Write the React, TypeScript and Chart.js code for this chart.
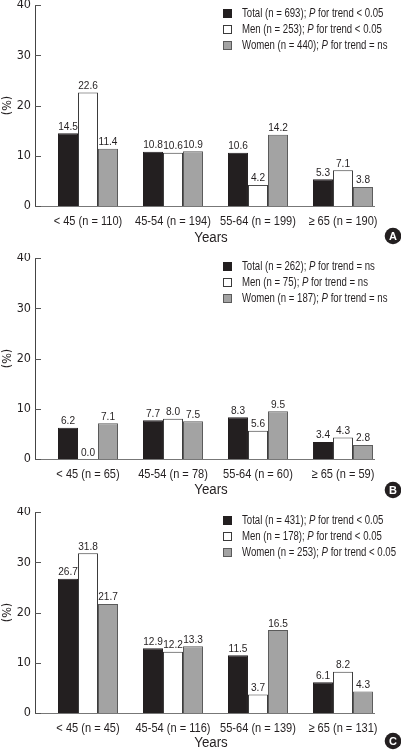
import { useEffect, useRef } from "react";
import { Chart, registerables } from "chart.js";

Chart.register(...registerables);

// ---------- data ----------
const ageGroups = ["< 45", "45-54", "55-64", "≥ 65"];
const seriesNames = ["Total", "Men", "Women"];
const yTickValues = [0, 10, 20, 30, 40];

const panelLetters = ["A", "B", "C"];

const groupNA = [110, 194, 199, 190];
const groupNB = [65, 78, 60, 59];
const groupNC = [45, 116, 139, 131];

const totalA = [14.5, 10.8, 10.6, 5.3];
const menA = [22.6, 10.6, 4.2, 7.1];
const womenA = [11.4, 10.9, 14.2, 3.8];

const totalB = [6.2, 7.7, 8.3, 3.4];
const menB = [0.0, 8.0, 5.6, 4.3];
const womenB = [7.1, 7.5, 9.5, 2.8];

const totalC = [26.7, 12.9, 11.5, 6.1];
const menC = [31.8, 12.2, 3.7, 8.2];
const womenC = [21.7, 13.3, 16.5, 4.3];

const seriesNA = [693, 253, 440];
const seriesNB = [262, 75, 187];
const seriesNC = [431, 178, 253];

const trendA = ["< 0.05", "< 0.05", "= ns"];
const trendB = ["= ns", "= ns", "= ns"];
const trendC = ["< 0.05", "< 0.05", "< 0.05"];

// ---------- styling ----------
const FONT = "'Liberation Sans', Arial, sans-serif";
const fills = ["#231f20", "#ffffff", "#a3a3a3"];
const borders = ["#231f20", "#3a3a3a", "#5a5a5a"];
const TEXT = "#231f20";

const panels = [
  { letter: panelLetters[0], groupN: groupNA, values: [totalA, menA, womenA], seriesN: seriesNA, trend: trendA, top: 0, height: 250, circleY: 236, yearsY: 238 },
  { letter: panelLetters[1], groupN: groupNB, values: [totalB, menB, womenB], seriesN: seriesNB, trend: trendB, top: 253, height: 250, circleY: 237, yearsY: 237 },
  { letter: panelLetters[2], groupN: groupNC, values: [totalC, menC, womenC], seriesN: seriesNC, trend: trendC, top: 507, height: 244, circleY: 234, yearsY: 236 },
];

const PLOT_TOP = 5;
const PLOT_BOTTOM = 206;
const PLOT_LEFT = 35;
const PLOT_RIGHT = 374;
const X_MIN = -0.6235;
const X_MAX = 3.365;

function condText(ctx: CanvasRenderingContext2D, text: string, x: number, y: number, sx: number, align: CanvasTextAlign) {
  ctx.save();
  ctx.translate(x, y);
  ctx.scale(sx, 1);
  ctx.textAlign = align;
  ctx.fillText(text, 0, 0);
  ctx.restore();
  return ctx.measureText(text).width * sx;
}

const decorPlugin = {
  id: "decor",
  afterDatasetsDraw(chart: any) {
    const ctx = chart.ctx;
    ctx.save();
    ctx.font = `11px ${FONT}`;
    ctx.fillStyle = TEXT;
    ctx.textBaseline = "alphabetic";
    chart.data.datasets.forEach((ds: any, di: number) => {
      const meta = chart.getDatasetMeta(di);
      meta.data.forEach((bar: any, i: number) => {
        condText(ctx, Number(ds.data[i].y).toFixed(1), bar.x, bar.y - 3.5, 0.92, "center");
      });
    });
    ctx.restore();
  },
  afterDraw(chart: any, _args: any, opts: any) {
    const ctx = chart.ctx;
    const yScale = chart.scales.y;
    const xScale = chart.scales.x;
    const area = chart.chartArea;
    ctx.save();
    // inward tick marks
    ctx.strokeStyle = "#555";
    ctx.lineWidth = 1;
    yScale.ticks.forEach((t: any) => {
      const py = Math.round(yScale.getPixelForValue(t.value)) + 0.5;
      ctx.beginPath();
      ctx.moveTo(area.left, py);
      ctx.lineTo(area.left + 6, py);
      ctx.stroke();
    });
    // category labels
    ctx.fillStyle = TEXT;
    ctx.font = `13px ${FONT}`;
    ctx.textBaseline = "middle";
    opts.labels.forEach((lab: string, i: number) => {
      condText(ctx, lab, xScale.getPixelForValue(i), area.bottom + 15.5, 0.85, "center");
    });
    // legend
    const rows = [13.5, 29.5, 45.5];
    seriesNames.forEach((name, i) => {
      const cy = rows[i];
      ctx.fillStyle = fills[i];
      ctx.fillRect(223, cy - 4.5, 9, 9);
      ctx.strokeStyle = borders[i];
      ctx.strokeRect(223.5, cy - 4, 8, 8);
      ctx.fillStyle = TEXT;
      ctx.textBaseline = "middle";
      let x = 242;
      const part1 = `${name} (n = ${opts.seriesN[i]}); `;
      ctx.font = `12px ${FONT}`;
      x += condText(ctx, part1, x, cy, 0.8, "left");
      ctx.font = `italic 12px ${FONT}`;
      x += condText(ctx, "P", x, cy, 0.8, "left");
      ctx.font = `12px ${FONT}`;
      condText(ctx, ` for trend ${opts.trend[i]}`, x, cy, 0.8, "left");
    });
    // x axis title
    ctx.font = `14px ${FONT}`;
    ctx.textBaseline = "middle";
    ctx.fillStyle = TEXT;
    condText(ctx, "Years", 211, opts.yearsY, 0.95, "center");
    // panel letter
    ctx.beginPath();
    ctx.arc(393, opts.circleY, 8.3, 0, Math.PI * 2);
    ctx.fillStyle = "#231f20";
    ctx.fill();
    ctx.fillStyle = "#ffffff";
    ctx.font = `bold 11px ${FONT}`;
    ctx.textAlign = "center";
    ctx.fillText(opts.letter, 393, opts.circleY + 0.5);
    ctx.restore();
  },
};

function Panel({ cfg }: { cfg: typeof panels[number] }) {
  const ref = useRef<HTMLCanvasElement | null>(null);
  useEffect(() => {
    if (!ref.current) return;
    const labels = ageGroups.map((g, i) => `${g} (n = ${cfg.groupN[i]})`);
    const chart = new Chart(ref.current, {
      type: "bar",
      data: {
        datasets: seriesNames.map((name, i) => ({
          label: name,
          data: cfg.values[i].map((v, k) => ({ x: k, y: v })),
          backgroundColor: fills[i],
          borderColor: borders[i],
          borderWidth: 1,
          barPercentage: 1,
          categoryPercentage: 0.706,
        })),
      },
      options: {
        animation: false,
        responsive: false,
        maintainAspectRatio: false,
        devicePixelRatio: 1,
        layout: { padding: { left: 0, right: 401 - PLOT_RIGHT, top: PLOT_TOP, bottom: 0 } },
        plugins: {
          legend: { display: false },
          tooltip: { enabled: false },
          decor: { letter: cfg.letter, labels, seriesN: cfg.seriesN, trend: cfg.trend, circleY: cfg.circleY, yearsY: cfg.yearsY },
        } as any,
        scales: {
          x: {
            type: "linear",
            min: X_MIN,
            max: X_MAX,
            offset: false,
            grid: { display: false, drawTicks: false },
            border: { display: true, color: "#777", width: 1 },
            ticks: { display: false },
            afterFit: (s: any) => {
              s.height = cfg.height - PLOT_BOTTOM;
              s.paddingLeft = 0;
              s.paddingRight = 0;
            },
          },
          y: {
            min: 0,
            max: 40,
            afterBuildTicks: (s: any) => {
              s.ticks = yTickValues.map((v) => ({ value: v }));
            },
            grid: { display: false, drawTicks: false },
            border: { display: true, color: "#444", width: 1 },
            ticks: { color: TEXT, font: { family: "'DejaVu Sans Condensed', sans-serif", size: 12.5 }, padding: 4 },
            title: { display: true, text: "(%)", color: TEXT, font: { family: "'DejaVu Sans Condensed', sans-serif", size: 12.5 }, padding: { top: 0, bottom: 0 } },
            afterFit: (s: any) => {
              s.width = PLOT_LEFT;
              s.paddingTop = 0;
              s.paddingBottom = 0;
            },
          },
        },
      } as any,
      plugins: [decorPlugin],
    });
    return () => chart.destroy();
  }, [cfg]);
  return (
    <canvas
      ref={ref}
      width={401}
      height={cfg.height}
      style={{ position: "absolute", left: 0, top: cfg.top, width: 401, height: cfg.height }}
    />
  );
}

export default function App() {
  useEffect(() => {
    document.body.style.margin = "0";
  }, []);
  return (
    <div style={{ position: "fixed", left: 0, top: 0, width: 401, height: 751, background: "#fff" }}>
      {panels.map((p) => (
        <Panel key={p.letter} cfg={p} />
      ))}
    </div>
  );
}
